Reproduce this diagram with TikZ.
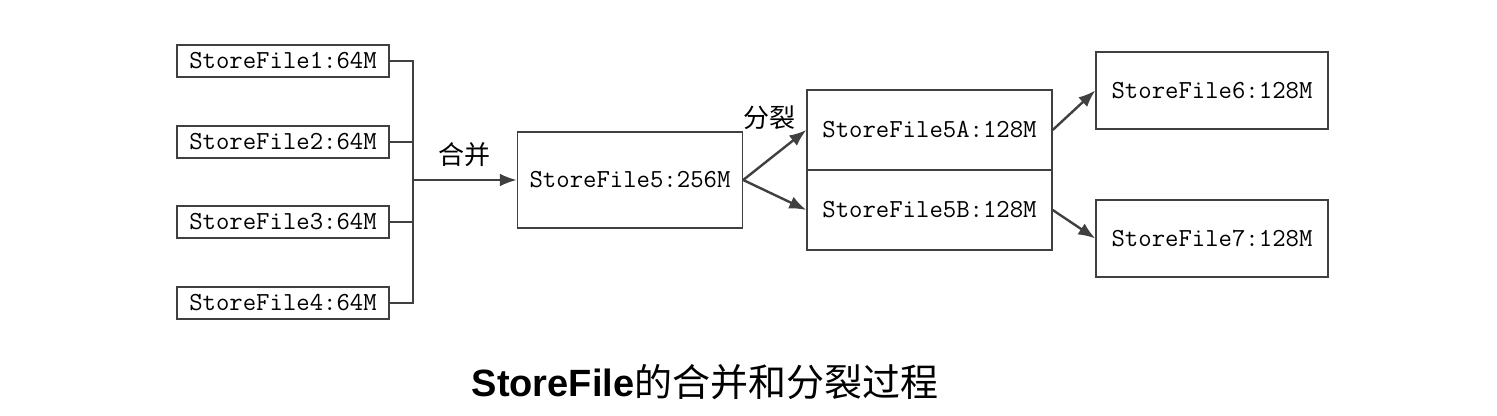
\documentclass[tikz,border=0pt]{standalone}
\usepackage{fontspec}
\setsansfont{Liberation Sans}
\newfontfamily\cjk{Noto Sans CJK SC}
\usetikzlibrary{arrows.meta}

\begin{document}
\begin{tikzpicture}[x=0.5pt, y=-0.5pt]
            \tikzset{filebox/.style={draw=black!75, line width=0.7pt, inner sep=0pt, font=\fontsize{13}{15}\ttfamily}}
            \tikzset{flow/.style={draw=black!75, line width=1.2pt, -{Latex[length=8.5pt, width=6.5pt]}}}
            \tikzset{busline/.style={draw=black!75, line width=1.1pt}}
            \useasboundingbox (0, 0) rectangle (1497, 416);
            \foreach \i/\y in {1/61, 2/142, 3/222, 4/303} {
                \node[filebox, minimum width=106pt, minimum height=16pt] (sf\i) at (283, \y) {StoreFile\i:64M};
            }
            \node[filebox, minimum width=112.5pt, minimum height=48pt] (sf5) at (630, 180) {StoreFile5:256M};
            \node[filebox, minimum width=122.5pt, minimum height=40pt] (sf5a) at (929.5, 130) {StoreFile5A:128M};
            \node[filebox, minimum width=122.5pt, minimum height=40pt] (sf5b) at (929.5, 210) {StoreFile5B:128M};
            \node[filebox, minimum width=116pt, minimum height=38.5pt] (sf6) at (1212, 90.5) {StoreFile6:128M};
            \node[filebox, minimum width=116pt, minimum height=38.5pt] (sf7) at (1212, 238.5) {StoreFile7:128M};
            \coordinate (bus) at (413, 180);
            \draw[busline] (sf1.east) -- (sf1.east -| bus) -- (sf4.east -| bus) -- (sf4.east);
            \foreach \i in {2, 3} {
                \draw[busline] (sf\i.east) -- (sf\i.east -| bus);
            }
            \draw[flow] (bus) -- (sf5.west);
            \draw[flow] (sf5.east) -- (sf5a.west);
            \draw[flow] (sf5.east) -- (sf5b.west);
            \draw[flow] (sf5a.east) -- (sf6.west);
            \draw[flow] (sf5b.east) -- (sf7.west);
            \node[font=\cjk\fontsize{13}{15}\selectfont] (merge) at (464, 155) {合并};
            \node[font=\cjk\fontsize{13}{15}\selectfont] (split) at (769, 118) {分裂};
            \node (title) at (705, 382) {{\fontsize{19}{22}\sffamily\bfseries StoreFile}{\cjk\fontsize{19}{22}\selectfont 的合并和分裂过程}};
\end{tikzpicture}
\end{document}
